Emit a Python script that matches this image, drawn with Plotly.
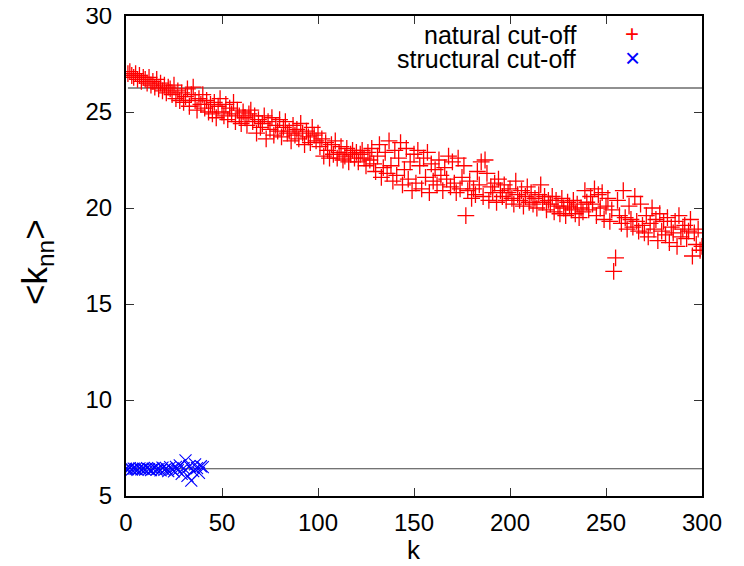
import plotly.graph_objects as go

# ---- data ----
natural_k = list(range(1, 301))
natural_knn = [
    27.0, 27.1, 26.9, 26.8, 27.0, 26.7, 26.9, 26.6, 26.8, 26.7,
    26.5, 26.8, 26.4, 26.6, 26.3, 26.7, 26.2, 26.5, 26.1, 26.4,
    26.0, 26.3, 26.2, 25.9, 26.4, 25.7, 26.1, 25.6, 26.0, 25.5,
    25.8, 26.2, 25.3, 25.9, 26.3, 25.6, 25.1, 25.7, 25.4, 25.9,
    25.2, 25.6, 25.0, 25.4, 24.9, 25.5, 24.7, 25.3, 25.7, 25.0,
    24.8, 25.4, 24.6, 25.2, 24.9, 25.5, 24.5, 25.1, 24.8, 24.4,
    25.0, 24.7, 24.3, 24.9, 25.1, 24.5, 24.8, 23.9, 24.6, 24.2,
    24.4, 24.8, 23.6, 24.5, 24.1, 24.7, 23.8, 24.3, 24.0, 24.6,
    23.7, 24.2, 24.5, 23.9, 24.0, 23.5, 24.3, 23.8, 24.1, 23.6,
    24.4, 23.9, 23.3, 24.0, 23.7, 23.4, 24.2, 23.8, 23.5, 23.9,
    23.2, 23.6, 22.7, 23.4, 23.0, 22.6, 23.3, 22.8, 23.5, 22.6,
    22.9, 23.2, 22.5, 22.7, 23.1, 22.4, 22.8, 23.0, 22.6, 22.9,
    22.4, 22.8, 23.0, 22.6, 22.2, 22.9, 22.5, 23.1, 22.3, 21.9,
    22.7, 23.3, 21.6, 22.1, 22.9, 21.8, 23.5, 22.2, 21.4, 23.0,
    21.7, 22.6, 23.4, 21.2, 22.0, 23.1, 21.5, 22.4, 20.9, 22.8,
    21.3, 23.0, 22.2, 21.0, 22.6, 21.6, 22.9, 20.8, 22.3, 21.4,
    22.0, 21.2, 22.5, 21.7, 20.9, 22.1, 21.5, 22.7, 21.1, 22.4,
    21.3, 20.8, 22.6, 21.0, 21.6, 22.2, 19.6, 20.9, 21.4, 20.5,
    21.0, 20.7, 21.9, 21.2, 22.4, 20.6, 22.5, 21.8, 20.4, 21.1,
    20.8, 21.3, 20.3, 21.5, 20.9, 20.6, 21.2, 20.4, 20.8, 21.0,
    20.5, 20.2, 21.4, 20.7, 20.4, 20.9, 20.1, 20.6, 21.1, 20.3,
    20.8, 20.2, 20.5, 20.0, 20.7, 21.2, 20.3, 20.6, 19.9, 20.4,
    20.2, 20.6, 19.8, 20.4, 20.1, 19.7, 20.5, 20.0, 19.6, 20.3,
    20.1, 19.9, 20.4, 19.7, 20.2, 19.5, 20.0, 19.8, 20.9, 20.3,
    19.9, 20.6, 20.2, 21.0, 19.6, 20.7, 20.0, 20.8, 19.4, 20.1,
    20.5, 19.3, 19.9, 16.7, 17.4, 20.4, 19.6, 19.2, 20.9, 19.5,
    18.9, 20.1, 19.4, 19.0, 20.6, 19.3, 18.8, 20.2, 19.1, 18.7,
    19.6, 18.5, 19.2, 20.0, 18.9, 19.4, 18.3, 19.7, 18.8, 19.3,
    18.6, 19.5, 18.2, 19.0, 18.7, 19.3, 18.0, 19.6, 18.5, 18.9,
    19.1, 18.4, 18.8, 19.4, 17.5, 18.7, 18.1, 18.9, 17.8, 18.0,
]

structural_k = list(range(0, 41))
structural_knn = [
    6.42, 6.40, 6.45, 6.38, 6.43, 6.41, 6.36, 6.44, 6.39, 6.42,
    6.37, 6.45, 6.40, 6.35, 6.43, 6.47, 6.38, 6.41, 6.33, 6.48,
    6.36, 6.44, 6.30, 6.50, 6.39, 6.28, 6.52, 6.35, 6.60, 6.15,
    6.45, 6.85, 6.05, 6.55, 5.80, 6.30, 6.65, 6.45, 6.20, 6.55,
    6.50,
]

cutoff_k = [1, 300]
natural_cutoff = 26.25
structural_cutoff = 6.42

x_ticks = [0, 50, 100, 150, 200, 250, 300]
y_ticks = [5, 10, 15, 20, 25, 30]

series_names = ["natural cut-off", "structural cut-off"]
x_title = "k"
y_title = "&lt;k<sub>nn</sub>&gt;"

FONT = "Liberation Sans, Arial, sans-serif"

# page body has an 8px margin, so figure coords = page coords - 8
OFF = 8
L, R, T, B = 126 - OFF, 702 - OFF, 16 - OFF, 496 - OFF
W, H = 744, 566

def px(xp):
    return (xp - OFF - L) / (R - L)

def py(yp):
    return 1 - (yp - OFF - T) / (B - T)

fig = go.Figure()

fig.add_trace(go.Scatter(
    x=cutoff_k, y=[natural_cutoff] * 2, mode="lines",
    line=dict(color="#222222", width=1.2), showlegend=False, hoverinfo="skip"))
fig.add_trace(go.Scatter(
    x=cutoff_k, y=[structural_cutoff] * 2, mode="lines",
    line=dict(color="#444444", width=1.2), showlegend=False, hoverinfo="skip"))

fig.add_trace(go.Scatter(
    x=natural_k, y=natural_knn, mode="markers", name=series_names[0],
    marker=dict(symbol="cross-thin-open", size=12, color="red",
                line=dict(color="red", width=1.3)),
    showlegend=False))
fig.add_trace(go.Scatter(
    x=structural_k, y=structural_knn, mode="markers", name=series_names[1],
    marker=dict(symbol="x-thin-open", size=12, color="blue",
                line=dict(color="blue", width=1.1)),
    showlegend=False))

# gnuplot-style key: text right-aligned, sample to its right (page coords)
annots = [
    dict(text=series_names[0], y=35, color="black", x=578, anchor="right", size=25),
    dict(text=series_names[1], y=59, color="black", x=578, anchor="right", size=25),
    dict(text="+", y=34, color="red", x=632, anchor="center", size=24),
    dict(text="×", y=58, color="blue", x=632, anchor="center", size=26),
]
for a in annots:
    fig.add_annotation(
        x=px(a["x"]), y=py(a["y"]),
        xref="paper", yref="paper", text=a["text"], showarrow=False,
        xanchor=a["anchor"], yanchor="middle",
        font=dict(family=FONT, size=a["size"], color=a["color"]))

# axis titles placed as in the reference
fig.add_annotation(x=px(414), y=py(550), xref="paper", yref="paper",
                   text=x_title, showarrow=False, xanchor="center", yanchor="middle",
                   font=dict(family=FONT, size=26, color="black"))
fig.add_annotation(x=px(37), y=py(262), xref="paper", yref="paper",
                   text=y_title, showarrow=False, xanchor="center", yanchor="middle",
                   textangle=-90, font=dict(family=FONT, size=35, color="black"))

axis_common = dict(
    showline=True, linecolor="black", linewidth=2, mirror="allticks",
    ticks="inside", ticklen=8, tickwidth=1.2, tickcolor="#333333",
    showgrid=False, zeroline=False, automargin=False,
    ticklabeloverflow="allow",
    tickfont=dict(family=FONT, size=24, color="black"),
)

fig.update_xaxes(range=[0, 300], tickvals=x_ticks, ticklabelstandoff=4, **axis_common)
fig.update_yaxes(range=[5, 30], tickvals=y_ticks, ticklabelstandoff=7, **axis_common)

fig.update_layout(
    width=W, height=H,
    margin=dict(l=L, r=W - R, t=T, b=H - B),
    paper_bgcolor="white", plot_bgcolor="white",
    showlegend=False,
)

fig.write_html("out.html")
